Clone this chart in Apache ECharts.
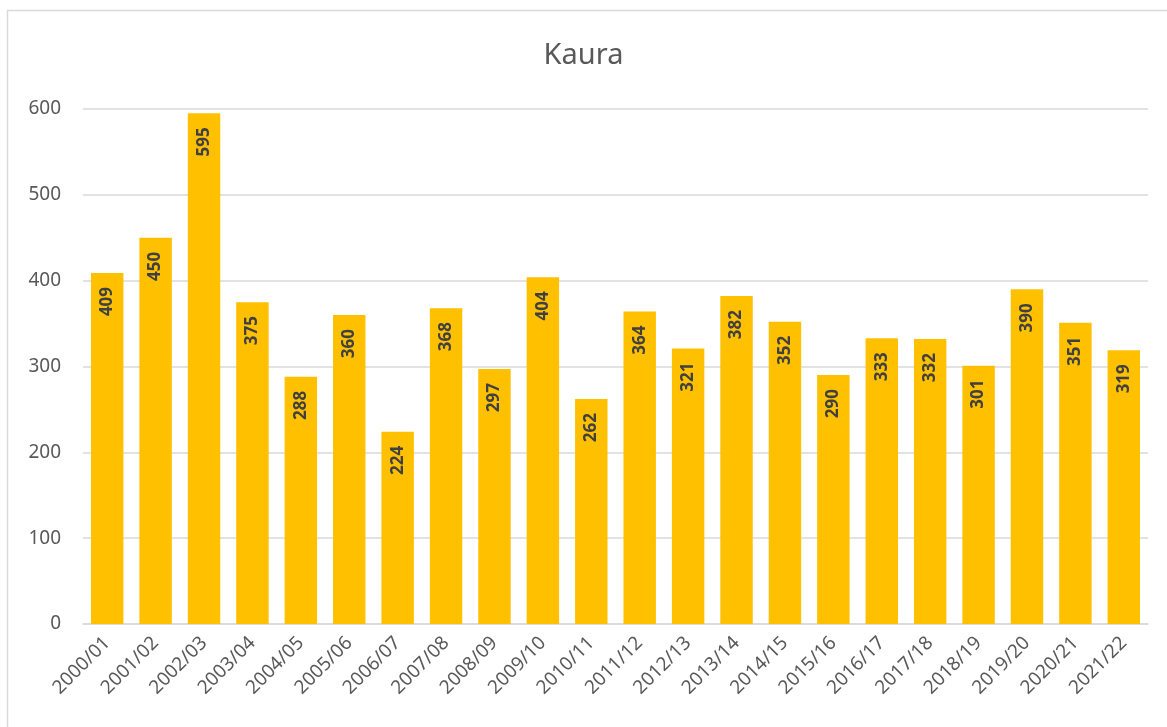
<!DOCTYPE html>
<html lang="fi">
<head>
<meta charset="utf-8">
<title>Kaura</title>
<script src="https://cdn.jsdelivr.net/npm/echarts@6/dist/echarts.min.js"></script>
<style>
  html, body { margin: 0; padding: 0; width: 100%; height: 100%; background: #fff; }
  #chart { width: 1167px; height: 727px; }
</style>
</head>
<body>
<div id="chart"></div>
<script>
var years = ['2000/01', '2001/02', '2002/03', '2003/04', '2004/05', '2005/06', '2006/07',
  '2007/08', '2008/09', '2009/10', '2010/11', '2011/12', '2012/13', '2013/14', '2014/15',
  '2015/16', '2016/17', '2017/18', '2018/19', '2019/20', '2020/21', '2021/22'];
var kaura = [409, 450, 595, 375, 288, 360, 224, 368, 297, 404, 262, 364, 321, 382, 352,
  290, 333, 332, 301, 390, 351, 319];
var yTicks = [0, 100, 200, 300, 400, 500, 600];

var font = '"Noto Sans", "Open Sans", sans-serif';
var myChart = echarts.init(document.getElementById('chart'));
myChart.setOption({
  animation: false,
  textStyle: { fontFamily: font },
  graphic: [{
    type: 'rect',
    shape: { x: 7.5, y: 10.5, width: 1180, height: 740 },
    style: { fill: 'none', stroke: '#d9d9d9', lineWidth: 1.5 },
    silent: true
  }],
  title: {
    text: 'Kaura',
    left: 'center',
    top: 36,
    textStyle: { color: '#595959', fontSize: 29, fontWeight: 'normal', fontFamily: font }
  },
  grid: { left: 83, right: 19, top: 109, bottom: 103 },
  xAxis: {
    type: 'category',
    data: years,
    axisTick: { show: false },
    axisLine: { lineStyle: { color: '#d9d9d9', width: 1.5 } },
    axisLabel: { rotate: 45, color: '#595959', fontSize: 19, margin: 16, interval: 0 }
  },
  yAxis: {
    type: 'value',
    min: yTicks[0],
    max: yTicks[yTicks.length - 1],
    interval: 100,
    axisLine: { show: false },
    axisTick: { show: false },
    axisLabel: { color: '#595959', fontSize: 19, margin: 22 },
    splitLine: { lineStyle: { color: '#d9d9d9', width: 1.5 } }
  },
  series: [{
    type: 'bar',
    data: kaura,
    barCategoryGap: '33%',
    itemStyle: { color: '#ffc000' },
    label: {
      show: true,
      position: 'insideTop',
      rotate: 90,
      align: 'right',
      verticalAlign: 'middle',
      distance: 14,
      color: '#404040',
      fontSize: 17,
      fontWeight: 'bold'
    }
  }]
});
</script>
</body>
</html>
